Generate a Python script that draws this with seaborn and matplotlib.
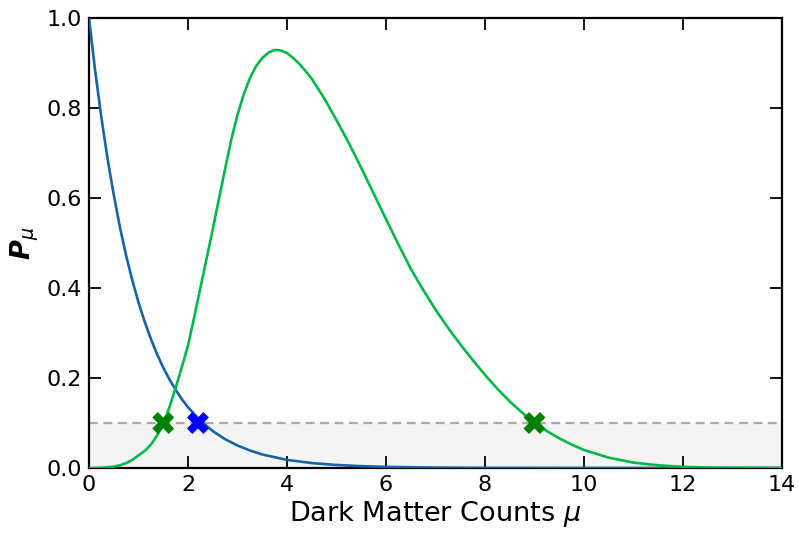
import numpy as np
import pandas as pd
import matplotlib
matplotlib.use("Agg")
import matplotlib.pyplot as plt
import seaborn as sns

# Data
mu_blue = [0.0, 0.125, 0.25, 0.375, 0.5, 0.625, 0.75, 0.875, 1.0, 1.125, 1.25, 1.375,
           1.5, 1.625, 1.75, 1.875, 2.0, 2.25, 2.5, 2.75, 3.0, 3.25, 3.5, 3.75, 4.0,
           4.5, 5.0, 5.5, 6.0, 7.0, 8.0, 9.0, 10.0, 12.0, 14.0]
p_blue = [1.0, 0.882, 0.779, 0.687, 0.607, 0.535, 0.472, 0.417, 0.368, 0.325, 0.287,
          0.253, 0.223, 0.197, 0.174, 0.153, 0.135, 0.105, 0.082, 0.064, 0.05, 0.039,
          0.030, 0.024, 0.018, 0.011, 0.0067, 0.0041, 0.0025, 0.0009, 0.0003, 0.0001,
          0.00005, 0.0, 0.0]

mu_green = [0.0, 0.25, 0.5, 0.625, 0.75, 0.875, 1.0, 1.125, 1.25, 1.375, 1.5, 1.625,
            1.75, 1.875, 2.0, 2.125, 2.25, 2.375, 2.5, 2.625, 2.75, 2.875, 3.0, 3.125,
            3.25, 3.375, 3.5, 3.625, 3.75, 3.875, 4.0, 4.125, 4.25, 4.375, 4.5, 4.75,
            5.0, 5.25, 5.5, 5.75, 6.0, 6.25, 6.5, 6.75, 7.0, 7.25, 7.5, 7.75, 8.0,
            8.25, 8.5, 8.75, 9.0, 9.25, 9.5, 9.75, 10.0, 10.5, 11.0, 11.5, 12.0, 12.5,
            13.0, 14.0]
p_green = [0.0, 0.0003, 0.003, 0.006, 0.011, 0.018, 0.028, 0.038, 0.052, 0.072, 0.098,
           0.135, 0.178, 0.224, 0.272, 0.335, 0.40, 0.465, 0.53, 0.598, 0.665, 0.73,
           0.785, 0.83, 0.866, 0.893, 0.911, 0.923, 0.929, 0.928, 0.922, 0.911, 0.898,
           0.882, 0.865, 0.822, 0.773, 0.722, 0.667, 0.61, 0.553, 0.497, 0.443, 0.396,
           0.352, 0.312, 0.275, 0.24, 0.207, 0.176, 0.148, 0.123, 0.1, 0.082, 0.066,
           0.052, 0.040, 0.023, 0.012, 0.006, 0.0025, 0.001, 0.0004, 0.0]

threshold = 0.1
marker_green_x = [1.5, 9.0]
marker_blue_x = [2.2]
xticks = [0, 2, 4, 6, 8, 10, 12, 14]
yticks = [0.0, 0.2, 0.4, 0.6, 0.8, 1.0]

sns.set_style("white")
plt.rcParams['font.family'] = ['DejaVu Sans']
plt.rcParams['mathtext.fontset'] = 'dejavusans'
for k in ['text.color', 'axes.labelcolor', 'xtick.color', 'ytick.color', 'axes.edgecolor']:
    plt.rcParams[k] = 'black'

fig = plt.figure(figsize=(7.99, 5.33), dpi=100)
ax = fig.add_axes([89/799, 1 - 468/533, (782-89)/799, (468-18)/533])

ax.axhspan(0, threshold, color='#f4f4f4', zorder=0, lw=0)
ax.axhline(threshold, color='#aaaaaa', ls=(0, (4, 2.5)), lw=1.6, zorder=1)

df_b = pd.DataFrame({'mu': mu_blue, 'p': p_blue})
df_g = pd.DataFrame({'mu': mu_green, 'p': p_green})
sns.lineplot(data=df_b, x='mu', y='p', ax=ax, color='#1763a8', lw=1.9, zorder=3)
sns.lineplot(data=df_g, x='mu', y='p', ax=ax, color='#00b84a', lw=1.9, zorder=3)

df_mg = pd.DataFrame({'mu': marker_green_x, 'p': [threshold]*len(marker_green_x)})
df_mb = pd.DataFrame({'mu': marker_blue_x, 'p': [threshold]*len(marker_blue_x)})
sns.scatterplot(data=df_mg, x='mu', y='p', ax=ax, marker='X', s=250, color='green',
                edgecolor='none', zorder=4)
sns.scatterplot(data=df_mb, x='mu', y='p', ax=ax, marker='X', s=250, color='blue',
                edgecolor='none', zorder=4)

ax.set_xlim(0, 14)
ax.set_ylim(0, 1.0)
ax.set_xticks(xticks)
ax.set_yticks(yticks)
ax.set_xticklabels([str(t) for t in xticks])
ax.set_yticklabels([f"{t:.1f}" for t in yticks])
ax.tick_params(direction='in', length=8.5, width=1.3, labelsize=16, colors='black',
               top=True, right=True, bottom=True, left=True, pad=5)
for s in ax.spines.values():
    s.set_linewidth(1.6)
    s.set_color('black')
    s.set_visible(True)

ax.set_xlabel(r"Dark Matter Counts $\mu$", fontsize=19.5, labelpad=3)
ax.set_ylabel(r"$\boldsymbol{P}_{\mu}$", fontsize=19.5, labelpad=4)

fig.savefig("out.png", dpi=100)
